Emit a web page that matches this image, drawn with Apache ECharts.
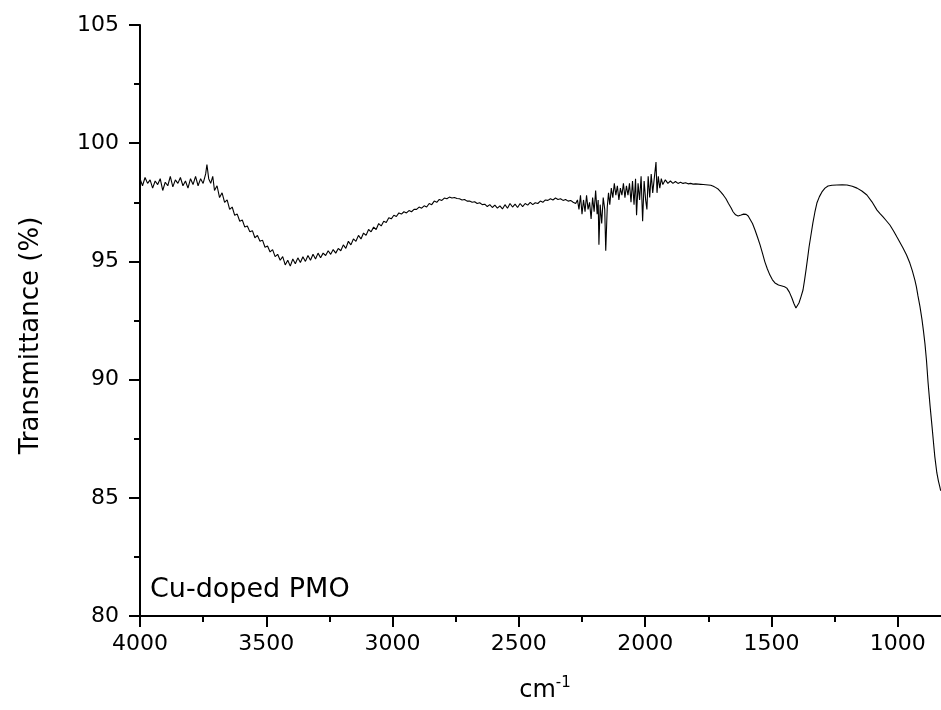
<!DOCTYPE html>
<html>
<head>
<meta charset="utf-8">
<title>Cu-doped PMO</title>
<script src="https://cdn.jsdelivr.net/npm/echarts@6.0.0/dist/echarts.min.js"></script>
<style>
  html, body { margin: 0; padding: 0; background: #fff; }
  #chart { width: 941px; height: 710px; }
</style>
</head>
<body>
<div id="chart"></div>
<script>
// [wavenumber cm-1, transmittance %] from left to right
const baselineHigh = [
  [4000, 98.5], [3990, 98.2], [3980, 98.55], [3970, 98.3], [3960, 98.45], [3950, 98.1], [3940, 98.4], [3930, 98.25], [3920, 98.5], [3910, 98.0],
  [3900, 98.35], [3890, 98.2], [3880, 98.6], [3870, 98.15], [3860, 98.45], [3850, 98.3], [3840, 98.55], [3830, 98.2], [3820, 98.4], [3810, 98.1],
  [3800, 98.5], [3790, 98.25], [3780, 98.6], [3770, 98.2], [3760, 98.5], [3750, 98.3], [3740, 98.7]
]

const ohBand = [
  [3735, 99.1], [3728, 98.5], [3720, 98.3], [3712, 98.6], [3705, 98.0], [3695, 98.2], [3685, 97.7], [3675, 97.9], [3665, 97.5], [3655, 97.6],
  [3645, 97.2], [3635, 97.3], [3625, 96.95], [3615, 97.0], [3605, 96.7], [3595, 96.75], [3585, 96.45], [3575, 96.5], [3565, 96.25], [3555, 96.3],
  [3545, 96.0], [3535, 96.1], [3525, 95.85], [3515, 95.9], [3505, 95.6], [3495, 95.65], [3485, 95.4], [3475, 95.5], [3465, 95.2], [3455, 95.3],
  [3445, 95.05], [3435, 95.2], [3425, 94.85], [3415, 95.05], [3405, 94.8], [3395, 95.1], [3385, 94.9], [3375, 95.15], [3365, 94.95], [3355, 95.2],
  [3345, 95.0], [3335, 95.25], [3325, 95.05], [3315, 95.3], [3305, 95.1], [3295, 95.35], [3285, 95.15], [3275, 95.35], [3265, 95.25], [3255, 95.45],
  [3245, 95.3], [3235, 95.5], [3225, 95.35], [3215, 95.55], [3205, 95.45], [3195, 95.7], [3185, 95.55], [3175, 95.85], [3165, 95.7], [3155, 95.95],
  [3145, 95.85], [3135, 96.1], [3125, 95.95], [3115, 96.2], [3105, 96.1], [3095, 96.35], [3085, 96.25], [3075, 96.45], [3065, 96.35], [3055, 96.6],
  [3045, 96.5], [3035, 96.7], [3025, 96.65], [3015, 96.85], [3005, 96.8], [2995, 96.95], [2985, 96.9], [2975, 97.05], [2965, 97.0], [2955, 97.1],
  [2945, 97.05], [2935, 97.15], [2925, 97.1], [2915, 97.2], [2905, 97.2], [2895, 97.3], [2885, 97.25], [2875, 97.35], [2865, 97.3], [2855, 97.45],
  [2845, 97.4], [2835, 97.55], [2825, 97.5], [2815, 97.62], [2805, 97.58], [2795, 97.68], [2785, 97.65], [2775, 97.72], [2765, 97.68], [2755, 97.7],
  [2745, 97.66]
]

const midPlateau = [
  [2735, 97.65], [2725, 97.6], [2715, 97.62], [2705, 97.55], [2695, 97.55], [2685, 97.5], [2675, 97.52], [2665, 97.45], [2655, 97.48], [2645, 97.4],
  [2635, 97.42], [2625, 97.32], [2615, 97.4], [2605, 97.28], [2595, 97.38], [2585, 97.25], [2575, 97.35], [2565, 97.22], [2555, 97.4], [2545, 97.25],
  [2535, 97.45], [2525, 97.3], [2515, 97.42], [2505, 97.28], [2495, 97.45], [2485, 97.32], [2475, 97.45], [2465, 97.38], [2455, 97.5], [2445, 97.4],
  [2435, 97.48], [2425, 97.45], [2415, 97.55], [2405, 97.5], [2395, 97.6], [2385, 97.58], [2375, 97.65], [2365, 97.6], [2355, 97.68], [2345, 97.62],
  [2335, 97.65], [2325, 97.58], [2315, 97.62], [2305, 97.55], [2295, 97.58], [2285, 97.5], [2275, 97.45]
]

const noisyRegion = [
  [2268, 97.6], [2262, 97.2], [2256, 97.8], [2250, 97.0], [2244, 97.6], [2238, 97.1], [2232, 97.8], [2226, 97.2], [2220, 97.5], [2214, 96.8],
  [2208, 97.7], [2202, 97.1], [2196, 98.0], [2190, 97.0], [2186, 97.6], [2183, 95.7], [2178, 97.4], [2172, 96.6], [2166, 97.7], [2160, 97.2],
  [2156, 95.45], [2150, 97.3], [2145, 97.9], [2140, 97.4], [2134, 98.1], [2128, 97.7], [2122, 98.3], [2116, 97.8], [2110, 98.2], [2104, 97.6],
  [2098, 98.1], [2092, 97.8], [2086, 98.3], [2080, 97.7], [2074, 98.2], [2068, 97.8], [2062, 98.3], [2056, 97.5], [2050, 98.4], [2044, 97.4],
  [2038, 98.5], [2034, 96.95], [2028, 98.3], [2022, 97.6], [2016, 98.6], [2010, 96.7], [2004, 98.4], [1998, 97.6], [1993, 97.2], [1988, 98.6],
  [1982, 97.7], [1976, 98.7], [1970, 97.9], [1964, 98.5], [1957, 99.2], [1953, 97.9], [1948, 98.6], [1942, 98.1], [1936, 98.5]
]

const fingerprint = [
  [1930, 98.25], [1920, 98.45], [1910, 98.3], [1900, 98.4], [1890, 98.3], [1880, 98.38], [1870, 98.3], [1860, 98.35], [1850, 98.3], [1840, 98.33],
  [1830, 98.28], [1820, 98.3], [1810, 98.27], [1800, 98.28], [1790, 98.27], [1780, 98.26], [1770, 98.25], [1760, 98.24], [1750, 98.23], [1740, 98.22],
  [1730, 98.18], [1720, 98.12], [1710, 98.05], [1700, 97.93], [1690, 97.8], [1680, 97.65], [1670, 97.45], [1660, 97.27], [1652, 97.1], [1642, 96.97],
  [1632, 96.92], [1620, 96.96], [1610, 97.0], [1600, 96.99], [1592, 96.92], [1585, 96.84], [1575, 96.6], [1565, 96.33], [1555, 96.02], [1545, 95.7],
  [1535, 95.33], [1526, 94.98], [1516, 94.68], [1506, 94.42], [1496, 94.22], [1486, 94.09], [1472, 94.0], [1458, 93.96], [1448, 93.93], [1439, 93.87],
  [1429, 93.7], [1419, 93.45], [1411, 93.22], [1403, 93.03], [1397, 93.08], [1391, 93.24], [1383, 93.5], [1375, 93.79], [1369, 94.2], [1363, 94.64],
  [1357, 95.12], [1351, 95.61], [1343, 96.15], [1336, 96.62], [1328, 97.08], [1320, 97.47], [1310, 97.74], [1300, 97.94], [1288, 98.1], [1276, 98.19],
  [1260, 98.22], [1241, 98.23], [1220, 98.24], [1201, 98.23], [1180, 98.18], [1161, 98.1], [1142, 97.98], [1122, 97.81], [1102, 97.52], [1082, 97.17],
  [1070, 97.02], [1058, 96.88], [1045, 96.72], [1031, 96.54], [1017, 96.3], [1003, 96.03], [991, 95.8], [979, 95.57], [965, 95.27], [952, 94.93],
  [942, 94.6], [932, 94.21], [926, 93.92], [920, 93.55], [912, 93.1], [904, 92.55], [898, 92.05], [892, 91.5], [886, 90.8], [880, 89.9],
  [872, 88.9], [864, 88.0], [858, 87.3], [853, 86.73], [845, 86.05], [839, 85.72], [833, 85.45], [830, 85.3]
]

const spectrum = [...baselineHigh, ...ohBand, ...midPlateau, ...noisyRegion, ...fingerprint]

const sampleLabel = 'Cu-doped PMO'
const yAxisName = 'Transmittance (%)'
const xAxisName = 'cm{sup|-1}'

const font = '"DejaVu Sans", "Liberation Sans", sans-serif'
const ink = '#000'

const chart = echarts.init(document.getElementById('chart'))

chart.setOption({
  animation: false,
  backgroundColor: '#fff',
  // plot continues off the right edge of the picture, so right is negative
  grid: { left: 140, top: 25, bottom: 94, right: -83, outerBoundsMode: 'none', containLabel: false },
  xAxis: {
    type: 'value',
    inverse: true,
    min: 500,
    max: 4000,
    interval: 500,
    name: xAxisName,
    nameLocation: 'middle',
    nameGap: 60,
    nameTextStyle: {
      color: ink,
      fontFamily: font,
      fontSize: 24,
      padding: [0, 74, 0, 0],
      rich: {
        sup: { color: ink, fontFamily: font, fontSize: 15, verticalAlign: 'top', padding: [0, 0, 14, 0] },
      },
    },
    axisLine: { lineStyle: { color: ink, width: 2 } },
    axisTick: { length: 11, lineStyle: { color: ink, width: 2 } },
    minorTick: { show: true, splitNumber: 2, length: 6, lineStyle: { color: ink, width: 2 } },
    axisLabel: { color: ink, fontFamily: font, fontSize: 22, margin: 17, formatter: (v) => String(v) },
    splitLine: { show: false },
  },
  yAxis: {
    type: 'value',
    min: 80,
    max: 105,
    interval: 5,
    name: yAxisName,
    nameLocation: 'middle',
    nameGap: 96,
    nameTextStyle: { color: ink, fontFamily: font, fontSize: 26, padding: [0, 30, 0, 0] },
    axisLine: { show: true, lineStyle: { color: ink, width: 2 } },
    axisTick: { show: true, length: 11, lineStyle: { color: ink, width: 2 } },
    minorTick: { show: true, splitNumber: 2, length: 6, lineStyle: { color: ink, width: 2 } },
    axisLabel: { color: ink, fontFamily: font, fontSize: 22, margin: 21, formatter: (v) => String(v) },
    splitLine: { show: false },
  },
  graphic: [
    {
      type: 'text',
      left: 150,
      top: 576,
      style: { text: sampleLabel, font: '27px ' + font, fill: ink },
    },
  ],
  series: [
    {
      type: 'line',
      data: spectrum,
      showSymbol: false,
      symbol: 'none',
      lineStyle: { color: ink, width: 1.1 },
    },
  ],
})
</script>
</body>
</html>
